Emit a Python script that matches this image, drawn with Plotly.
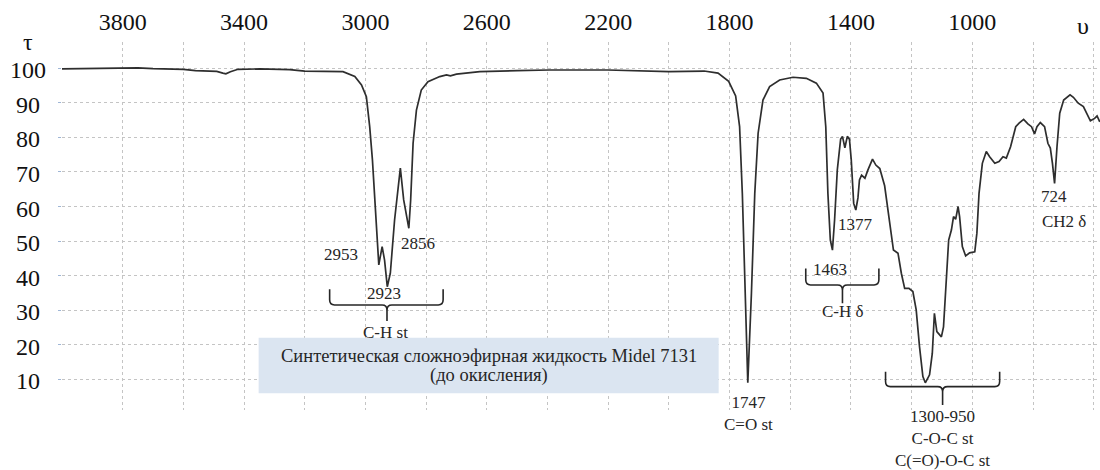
import plotly.graph_objects as go

# ---------------- data ----------------
wavenumber = [
    4000, 3950, 3900, 3850, 3800, 3750, 3700, 3650, 3600, 3560, 3520, 3490, 3470, 3460,
    3445, 3420, 3350, 3300, 3250, 3200, 3150, 3100, 3074, 3035, 3013, 2997, 2986, 2977,
    2966, 2956, 2945, 2937, 2928, 2918, 2904, 2885, 2874, 2867, 2857, 2851, 2843, 2832,
    2816, 2794, 2755, 2733, 2720, 2700, 2623, 2500, 2393, 2202, 2000, 1884, 1838, 1803,
    1780, 1767, 1758, 1750, 1740, 1728, 1717, 1706, 1690, 1668, 1635, 1591, 1547, 1514,
    1492, 1483, 1476, 1468, 1461, 1454, 1445, 1434, 1428, 1420, 1412, 1405, 1399, 1391,
    1384, 1377, 1372, 1365, 1354, 1344, 1329, 1318, 1305, 1289, 1278, 1267, 1260, 1245,
    1234, 1223, 1209, 1196, 1185, 1174, 1163, 1155, 1141, 1132, 1125, 1117, 1102, 1095,
    1086, 1078, 1069, 1062, 1055, 1047, 1042, 1033, 1022, 1009, 992, 985, 978, 967,
    954, 943, 926, 912, 899, 888, 874, 857, 846, 831, 817, 805, 795, 787,
    776, 762, 751, 743, 736, 729, 721, 712, 699, 678, 667, 651, 634, 624,
    611, 597, 589, 580,
]
transmittance = [
    99.8, 99.9, 99.8, 100.1, 100.0, 100.1, 99.9, 99.9, 99.7, 99.3, 99.2, 99.1, 98.6, 98.4,
    99.0, 99.7, 99.8, 99.7, 99.6, 99.2, 99.1, 99.0, 99.0, 97.6, 95.2, 91.8, 83.1, 73.5,
    59.0, 43.1, 48.4, 44.5, 36.8, 40.7, 56.1, 71.1, 61.9, 58.5, 53.7, 61.9, 78.3, 87.9,
    93.7, 96.1, 97.6, 98.1, 97.8, 98.3, 99.0, 99.3, 99.5, 99.5, 99.0, 99.2, 98.6, 96.2,
    92.0, 83.1, 63.8, 39.7, 9.0, 34.9, 63.8, 81.2, 90.8, 94.7, 96.6, 97.4, 97.1, 95.7,
    92.8, 83.1, 63.8, 50.3, 47.4, 56.1, 70.6, 79.5, 80.3, 77.0, 80.3, 79.5, 73.5, 60.9,
    59.0, 62.5, 67.7, 69.1, 68.2, 70.6, 73.7, 72.0, 71.0, 66.0, 59.0, 52.3, 47.4, 46.5,
    40.7, 36.3, 36.3, 35.4, 30.1, 19.4, 10.8, 9.0, 11.3, 17.5, 29.1, 23.8, 22.3, 25.2,
    40.7, 50.3, 53.2, 57.1, 56.3, 60.0, 57.1, 48.4, 45.7, 46.6, 46.9, 52.3, 63.8, 72.5,
    75.9, 74.4, 72.5, 73.0, 74.4, 74.0, 77.3, 83.1, 84.1, 85.2, 83.9, 83.1, 81.0, 83.1,
    84.3, 83.1, 78.3, 76.9, 72.5, 66.7, 77.3, 87.0, 90.8, 92.3, 91.6, 89.9, 88.9, 87.0,
    84.8, 85.5, 86.2, 84.5,
]

x_grid_vals = [4000, 3800, 3600, 3400, 3200, 3000, 2800, 2600, 2400, 2200, 2000,
               1800, 1600, 1400, 1200, 1000, 800, 600]
x_label_vals = [3800, 3400, 3000, 2600, 2200, 1800, 1400, 1000]
y_tick_vals = [10, 20, 30, 40, 50, 60, 70, 80, 90, 100]

x_axis_title = "υ"
y_axis_title = "τ"

# peak labels inside the plot: text, wavenumber, transmittance (where text sits)
peak_texts = ["2953", "2856", "2923", "1463", "1377", "724", "C-H st", "C-H δ", "CH2 δ"]
peak_x = [3079, 2827, 2940, 1470, 1384, 732, 2933, 1426, 699]
peak_y = [46.0, 49.4, 34.9, 41.7, 54.7, 62.8, 23.5, 29.6, 55.6]

# labels under the plot area: text, wavenumber
below_texts = ["1747<br>C=O st", "1300-950<br>C-O-C st<br>C(=O)-O-C st"]
below_x = [1738, 1098]
below_shift = [19, 5]   # pixel offsets (style)

# brackets: (left wn, right wn, centre wn, top, middle, stem bottom)
brackets = [
    (3118, 2744, 2929, 36.1, 31.5, 26.9),
    (1549, 1308, 1428, 42.1, 37.3, 32.0),
    (1286, 910, 1098, 12.2, 7.9, 2.6),
]

box_lines = ["Синтетическая сложноэфирная жидкость Midel 7131", "(до окисления)"]
box_x = (3352, 1836)
box_y = (6.0, 22.0)

# ---------------- figure ----------------
FONT = "'Liberation Serif', 'Times New Roman', Times, serif"
INK = "#262626"

fig = go.Figure()

fig.add_trace(go.Scatter(
    x=wavenumber, y=transmittance, mode="lines",
    line=dict(color="#2e2e2e", width=1.7),
    hoverinfo="x+y", showlegend=False,
))

# text box
fig.add_shape(type="rect", xref="x", yref="y",
              x0=box_x[0], x1=box_x[1], y0=box_y[0], y1=box_y[1],
              fillcolor="#dbe5f1", line=dict(width=0), layer="above")
for i, line in enumerate(box_lines):
    fig.add_annotation(x=(box_x[0] + box_x[1]) / 2, y=(box_y[0] + box_y[1]) / 2,
                       xref="x", yref="y", text=line, showarrow=False,
                       yshift=9.5 - 19 * i,
                       font=dict(family=FONT, size=18.5, color=INK), align="center")


def bracket_path(xl, xr, xc, yt, ym, yb, rx=16, ry=1.5):
    return (f"M{xl},{yt} L{xl},{ym + ry} Q{xl},{ym} {xl - rx},{ym} "
            f"L{xc + rx},{ym} Q{xc},{ym} {xc},{ym - ry} L{xc},{yb} "
            f"M{xc},{ym - ry} Q{xc},{ym} {xc - rx},{ym} "
            f"L{xr + rx},{ym} Q{xr},{ym} {xr},{ym + ry} L{xr},{yt}")


for b in brackets:
    fig.add_shape(type="path", xref="x", yref="y", path=bracket_path(*b),
                  line=dict(color=INK, width=1.6), layer="above")

for t, x, y in zip(peak_texts, peak_x, peak_y):
    fig.add_annotation(x=x, y=y, xref="x", yref="y", text=t, showarrow=False,
                       font=dict(family=FONT, size=17, color=INK))

for t, x, s in zip(below_texts, below_x, below_shift):
    fig.add_annotation(x=x, y=0, xref="x", yref="paper", yanchor="top", yshift=s,
                       text=t, showarrow=False, align="center",
                       font=dict(family=FONT, size=17, color=INK))

# y tick labels (centred, as in the original)
for v in y_tick_vals:
    fig.add_annotation(x=0, y=v, xref="paper", yref="y", xshift=-34, yshift=-2,
                       text=str(v), showarrow=False, xanchor="center",
                       font=dict(family=FONT, size=24, color="#111"))

fig.add_annotation(x=0, y=1, xref="paper", yref="paper", xshift=-34, yshift=0,
                   text=y_axis_title, showarrow=False, xanchor="center", yanchor="middle",
                   font=dict(family=FONT, size=24, color="#111"))
fig.add_annotation(x=636, y=1, xref="x", yref="paper", yshift=16,
                   text=x_axis_title, showarrow=False, xanchor="center", yanchor="middle",
                   font=dict(family=FONT, size=24, color="#111"))

x_ticktext = [str(v) if v in x_label_vals else "" for v in x_grid_vals]

fig.update_xaxes(
    range=[4000, 579.3], side="top",
    tickmode="array", tickvals=x_grid_vals, ticktext=x_ticktext,
    tickfont=dict(family=FONT, size=24, color="#111"),
    ticks="", ticklabelstandoff=6, showline=False, zeroline=False,
    showgrid=True, gridcolor="#c4c4c4", griddash="dot", gridwidth=1,
)
fig.update_yaxes(
    range=[1.13, 107.6],
    tickmode="array", tickvals=y_tick_vals, showticklabels=False,
    ticks="outside", ticklen=3, tickcolor="#9fb6d6",
    showline=False, zeroline=False,
    showgrid=True, gridcolor="#c4c4c4", griddash="dot", gridwidth=1,
)

fig.update_layout(
    width=1100, height=470,
    margin=dict(l=62, r=0, t=42, b=60),
    paper_bgcolor="white", plot_bgcolor="white",
    font=dict(family=FONT, color=INK),
    showlegend=False,
)

fig.write_html("out.html")
